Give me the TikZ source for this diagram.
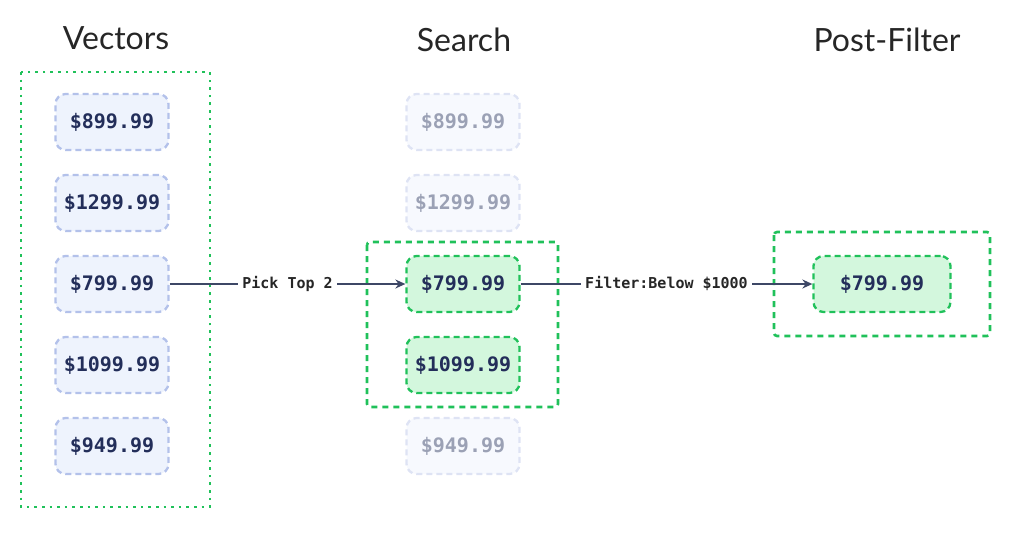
\documentclass[tikz,border=0pt]{standalone}
\usepackage{fontspec}
\setmainfont{Lato}
\setmonofont{DejaVu Sans Mono}
\usepackage{tikz}
\usetikzlibrary{arrows.meta}
\definecolor{gridgreen}{HTML}{20C15A}
\definecolor{valnavy}{HTML}{232E5A}
\definecolor{valfill}{HTML}{EEF3FD}
\definecolor{valline}{HTML}{B3C1EA}
\definecolor{fadefill}{HTML}{F7F9FE}
\definecolor{fadeline}{HTML}{DEE3F4}
\definecolor{fadetext}{HTML}{9BA1B5}
\definecolor{hitfill}{HTML}{D3F7DD}
\definecolor{arrowgray}{HTML}{3D4766}
\tikzset{
  value/.style={draw=valline, fill=valfill, text=valnavy, rounded corners=10pt,
    line width=2.3pt, dash pattern=on 6pt off 4pt, minimum width=113pt,
    minimum height=56pt, inner sep=0pt, font=\fontsize{20}{24}\selectfont\ttfamily\bfseries},
  faded/.style={value, draw=fadeline, fill=fadefill, text=fadetext},
  hit/.style={value, draw=gridgreen, fill=hitfill},
  title/.style={font=\fontsize{32}{38}\selectfont, text=black!85},
  flow/.style={draw=arrowgray, line width=1.5pt, -{Stealth[length=10pt,width=9pt]}},
  flowlabel/.style={fill=white, inner sep=4pt, text=black!85,
    font=\fontsize{15}{18}\selectfont\ttfamily\bfseries}
}
\begin{document}
\begin{tikzpicture}[x=1pt,y=-1pt]
\useasboundingbox (0,0) rectangle (1024,535);
% Titles
\node[title] (tvec) at (116,38) {Vectors};
\node[title] (tsearch) at (464,40) {Search};
\node[title] (tpost) at (887,40) {Post-Filter};
% Groups
\draw[gridgreen, line width=2.6pt, dash pattern=on 2.6pt off 5pt] (21,72) rectangle (210,507);
\draw[gridgreen, line width=2.6pt, dash pattern=on 6pt off 5pt, rounded corners=3pt] (367,242) rectangle (558,407);
\draw[gridgreen, line width=2.6pt, dash pattern=on 6pt off 5pt, rounded corners=3pt] (774,232) rectangle (990,336);
% Column 1: all vectors
\node[value] (v1) at (112,122) {\$899.99};
\node[value] (v2) at (112,203) {\$1299.99};
\node[value] (v3) at (112,284) {\$799.99};
\node[value] (v4) at (112,365) {\$1099.99};
\node[value] (v5) at (112,446) {\$949.99};
% Column 2: search, top 2 kept
\node[faded] (s1) at (463,122) {\$899.99};
\node[faded] (s2) at (463,203) {\$1299.99};
\node[hit] (s3) at (463,284) {\$799.99};
\node[hit] (s4) at (463,365) {\$1099.99};
\node[faded] (s5) at (463,446) {\$949.99};
% Column 3: after the filter
\node[hit, minimum width=137pt] (p1) at (882,284) {\$799.99};
% Arrows
\draw[flow] (v3) -- node[flowlabel] {Pick Top 2} (s3);
\draw[flow] (s3) -- node[flowlabel] {Filter:Below \$1000} (p1);
\end{tikzpicture}
\end{document}
